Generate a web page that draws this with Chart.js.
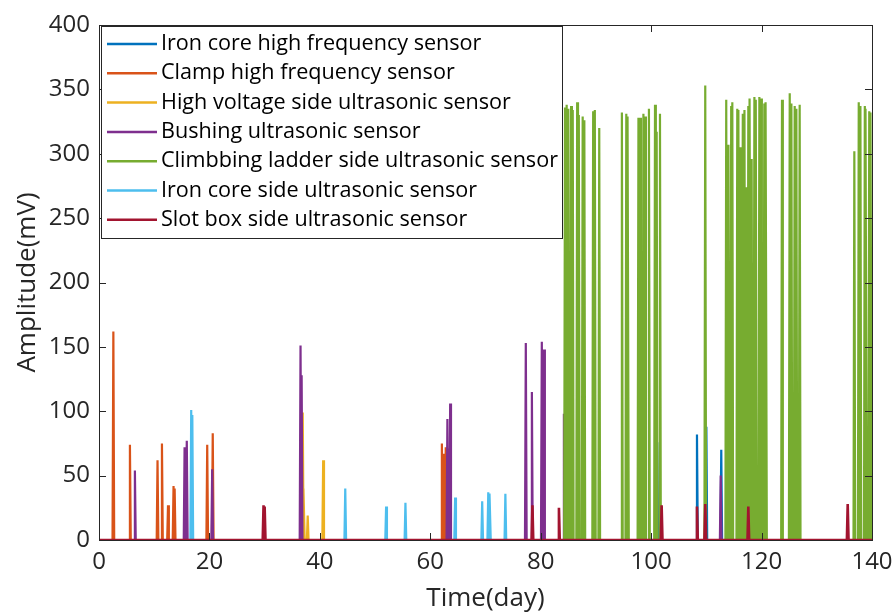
<!DOCTYPE html>
<html>
<head>
<meta charset="utf-8">
<script src="https://cdn.jsdelivr.net/npm/chart.js@4"></script>
<style>
  body { margin: 0; background: #fff; }
  #wrap { width: 894px; height: 614px; }
</style>
</head>
<body>
<div id="wrap"><canvas id="chart" width="894" height="614"></canvas></div>
<script>
// series labels (legend order)
const seriesNames = [
    'Iron core high frequency sensor',
    'Clamp high frequency sensor',
    'High voltage side ultrasonic sensor',
    'Bushing ultrasonic sensor',
    'Climbbing ladder side ultrasonic sensor',
    'Iron core side ultrasonic sensor',
    'Slot box side ultrasonic sensor'
];
const seriesColors = ['#0072BD', '#D95319', '#EDB120', '#7E2F8E', '#77AC30', '#4DBEEE', '#A2142F'];

// spike days / amplitudes (mV)
const ironHfDays = [101.1, 108.3, 110.0, 112.7, 117.4, 117.8, 118.1];
const ironHfAmps = [76, 82, 88, 70, 77, 72, 76];

const clampDays = [2.6, 5.6, 10.6, 11.4, 12.5, 13.5, 13.7, 19.6, 20.6, 62.1, 62.5, 62.8, 63.4];
const clampAmps = [162, 74, 62, 75, 27, 42, 40, 74, 83, 75, 67, 72, 71];

const hvDays = [36.9, 37.1, 37.8, 40.6];
const hvAmps = [99, 40, 19, 62];

const bushingDays = [6.5, 15.5, 15.9, 20.5, 36.5, 36.7, 63.1, 63.6, 77.3, 78.4, 80.2, 80.6, 84.2, 112.6, 117.3, 118.4];
const bushingAmps = [54, 72, 77, 55, 151, 128, 94, 106, 153, 115, 154, 148, 98, 50, 57, 60];

const ladderDays = [84.4, 84.7, 85.0, 85.5, 85.8, 86.6, 86.9, 87.6, 87.9, 89.5, 89.8, 90.6,
    94.7, 95.5, 95.8, 97.7, 98.0, 98.6, 98.9, 99.6, 100.7, 101.0, 101.6, 109.8,
    113.6, 114.0, 114.5, 114.7, 115.6, 115.8, 116.1, 116.6, 116.9, 117.2, 117.6, 117.9, 118.2,
    118.7, 118.95, 119.6, 119.9, 120.5, 120.8, 123.7, 125.1, 125.4, 126.0, 126.3, 126.9,
    136.8, 137.6, 137.9, 138.7, 138.9, 139.5, 139.8];
const ladderAmps = [336, 338, 335, 337, 334, 340, 330, 329, 326, 333, 334, 320,
    332, 331, 329, 328, 328, 331, 329, 335, 338, 317, 331, 353,
    342, 307, 337, 340, 335, 334, 305, 331, 334, 274, 337, 343, 296,
    344, 342, 344, 343, 339, 340, 342, 347, 339, 337, 335, 338,
    302, 340, 337, 337, 335, 333, 332];

const coreSideDays = [16.7, 16.9, 44.6, 52.0, 55.5, 64.5, 69.4, 70.5, 70.8, 73.6];
const coreSideAmps = [101, 97, 40, 26, 29, 33, 30, 37, 36, 36];

const slotDays = [29.8, 30.0, 78.5, 83.3, 101.9, 108.3, 109.8, 117.6, 135.6];
const slotAmps = [27, 26, 27, 25, 27, 26, 28, 26, 28];

// axis ticks
const xTicks = [0, 20, 40, 60, 80, 100, 120, 140];
const yTicks = [0, 50, 100, 150, 200, 250, 300, 350, 400];

const allDays = [ironHfDays, clampDays, hvDays, bushingDays, ladderDays, coreSideDays, slotDays];
const allAmps = [ironHfAmps, clampAmps, hvAmps, bushingAmps, ladderAmps, coreSideAmps, slotAmps];

// each reading becomes a narrow spike rising from the zero baseline
function spikes(days, amps) {
    const pts = [{ x: xTicks[0], y: 0 }];
    days.forEach((d, i) => {
        pts.push({ x: d - 0.15, y: 0 }, { x: d, y: amps[i] }, { x: d + 0.15, y: 0 });
    });
    pts.push({ x: xTicks[xTicks.length - 1], y: 0 });
    return pts;
}

const AXIS = '#262626';
const FONT = "'Open Sans', 'Noto Sans', sans-serif";

const datasets = seriesNames.map((name, i) => ({
    label: name,
    data: spikes(allDays[i], allAmps[i]),
    borderColor: seriesColors[i],
    backgroundColor: seriesColors[i],
    borderWidth: i === seriesNames.length - 1 ? 2.6 : 2.2,
    pointRadius: 0,
    tension: 0,
    borderJoinStyle: 'bevel',
    order: seriesNames.length - i   // later series drawn on top, like MATLAB
}));

// box, inward ticks and the boxed legend
const matlabAxes = {
    id: 'matlabAxes',
    afterDatasetsDraw(chart) {
        const { ctx, chartArea: a, scales } = chart;
        ctx.save();
        ctx.strokeStyle = AXIS;
        ctx.lineWidth = 1;
        ctx.beginPath();
        xTicks.forEach(v => {
            const px = Math.round(scales.x.getPixelForValue(v)) + 0.5;
            ctx.moveTo(px, a.bottom); ctx.lineTo(px, a.bottom - 7);
            ctx.moveTo(px, a.top); ctx.lineTo(px, a.top + 7);
        });
        yTicks.forEach(v => {
            const py = Math.round(scales.y.getPixelForValue(v)) + 0.5;
            ctx.moveTo(a.left, py); ctx.lineTo(a.left + 7, py);
            ctx.moveTo(a.right, py); ctx.lineTo(a.right - 7, py);
        });
        ctx.stroke();
        ctx.strokeRect(Math.round(a.left) + 0.5, Math.round(a.top) + 0.5,
            Math.round(a.right - a.left), Math.round(a.bottom - a.top));

        // legend
        const lx = a.left + 2, ly = a.top + 1, lw = 461, lh = 212;
        ctx.fillStyle = '#fff';
        ctx.fillRect(lx, ly, lw, lh);
        ctx.strokeStyle = AXIS;
        ctx.strokeRect(lx + 0.5, ly + 0.5, lw, lh);
        ctx.font = "21.6px " + FONT;
        ctx.textBaseline = 'middle';
        chart.data.datasets.forEach((ds, i) => {
            const y = ly + 18 + i * 29.3;
            ctx.strokeStyle = ds.borderColor;
            ctx.lineWidth = 2.5;
            ctx.beginPath();
            ctx.moveTo(lx + 6, y); ctx.lineTo(lx + 56, y);
            ctx.stroke();
            ctx.fillStyle = '#000';
            ctx.fillText(ds.label, lx + 60, y);
        });
        ctx.restore();
    }
};

new Chart(document.getElementById('chart').getContext('2d'), {
    type: 'line',
    data: { datasets: datasets },
    options: {
        responsive: false,
        animation: false,
        layout: { padding: { top: 25, right: 22, left: 0, bottom: 0 } },
        plugins: { legend: { display: false }, tooltip: { enabled: false } },
        scales: {
            x: {
                type: 'linear',
                min: 0,
                max: 140,
                afterFit: s => { s.height = 74; s.paddingLeft = 0; s.paddingRight = 0; },
                afterBuildTicks: s => { s.ticks = xTicks.map(v => ({ value: v })); },
                grid: { display: false, drawTicks: false },
                border: { display: false },
                ticks: { color: AXIS, padding: 8, font: { family: FONT, size: 24 }, maxRotation: 0 },
                title: { display: true, text: 'Time(day)', color: AXIS, padding: { top: 0, bottom: 0 }, font: { family: FONT, size: 26 } }
            },
            y: {
                min: 0,
                max: 400,
                afterFit: s => { s.width = 99; s.paddingTop = 0; s.paddingBottom = 0; },
                afterBuildTicks: s => { s.ticks = yTicks.map(v => ({ value: v })); },
                grid: { display: false, drawTicks: false },
                border: { display: false },
                ticks: { color: AXIS, padding: 9, font: { family: FONT, size: 24 } },
                title: { display: true, text: 'Amplitude(mV)', color: AXIS, padding: { top: 12, bottom: 0 }, font: { family: FONT, size: 26 } }
            }
        }
    },
    plugins: [matlabAxes]
});
</script>
</body>
</html>
